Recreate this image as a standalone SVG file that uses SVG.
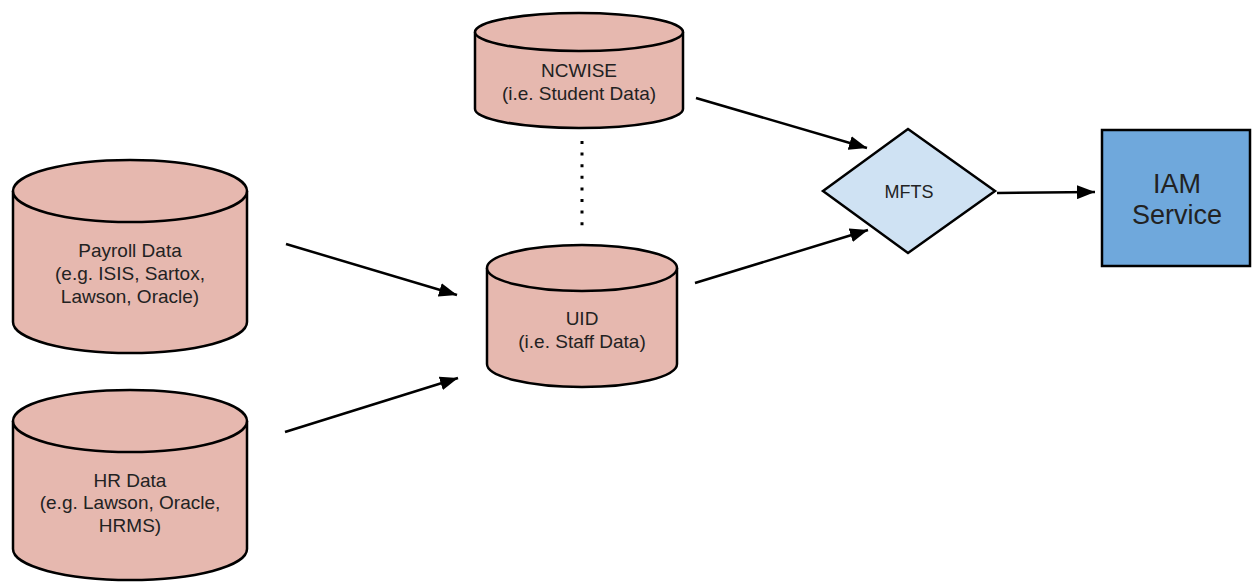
<svg xmlns="http://www.w3.org/2000/svg" width="1252" height="585" viewBox="0 0 1252 585">
  <defs>
    <marker id="arrow" viewBox="0 0 18 14" refX="18" refY="7" markerWidth="18" markerHeight="14" markerUnits="userSpaceOnUse" orient="auto">
      <path d="M0,0 L18,7 L0,14 Z" fill="#000"/>
    </marker>
    <style>
      .db { fill: #e6b8af; stroke: #000; stroke-width: 2.5; }
      .lbl { font-family: "Liberation Sans", Arial, sans-serif; font-size: 19px; fill: #222; text-anchor: middle; }
      .small { font-size: 18px; }
      .big { font-size: 27px; }
      .edge { fill: none; stroke: #000; stroke-width: 2.5; marker-end: url(#arrow); }
    </style>
  </defs>
  <rect width="1252" height="585" fill="#fff"/>

  <!-- NCWISE cylinder -->
  <g id="ncwise">
    <path class="db" d="M475,32 A104,19 0 0 1 683,32 L683,109 A104,19 0 0 1 475,109 Z"/>
    <path class="db" d="M475,32 A104,19 0 0 0 683,32" fill="none"/>
    <text class="lbl" x="579" y="77">NCWISE</text>
    <text class="lbl" x="579" y="100">(i.e. Student Data)</text>
  </g>

  <!-- Payroll cylinder -->
  <g id="payroll">
    <path class="db" d="M13,191 A117,31 0 0 1 247,191 L247,322 A117,31 0 0 1 13,322 Z"/>
    <path class="db" d="M13,191 A117,31 0 0 0 247,191" fill="none"/>
    <text class="lbl" x="130" y="257">Payroll Data</text>
    <text class="lbl" x="130" y="280">(e.g. ISIS, Sartox,</text>
    <text class="lbl" x="130" y="303">Lawson, Oracle)</text>
  </g>

  <!-- UID cylinder -->
  <g id="uid">
    <path class="db" d="M487,268 A95,23 0 0 1 677,268 L677,364 A95,23 0 0 1 487,364 Z"/>
    <path class="db" d="M487,268 A95,23 0 0 0 677,268" fill="none"/>
    <text class="lbl" x="582" y="325">UID</text>
    <text class="lbl" x="582" y="348">(i.e. Staff Data)</text>
  </g>

  <!-- HR cylinder -->
  <g id="hr">
    <path class="db" d="M13,421 A117,31 0 0 1 247,421 L247,549 A117,31 0 0 1 13,549 Z"/>
    <path class="db" d="M13,421 A117,31 0 0 0 247,421" fill="none"/>
    <text class="lbl" x="130" y="487">HR Data</text>
    <text class="lbl" x="130" y="509">(e.g. Lawson, Oracle,</text>
    <text class="lbl" x="130" y="532">HRMS)</text>
  </g>

  <!-- MFTS decision diamond -->
  <g id="mfts">
    <polygon points="823,191 908,129 995,191 908,253" fill="#cfe2f3" stroke="#000" stroke-width="2.5"/>
    <text class="lbl small" x="909" y="198">MFTS</text>
  </g>

  <!-- IAM Service box -->
  <g id="iam">
    <rect x="1102" y="130" width="148" height="136" fill="#6fa8dc" stroke="#000" stroke-width="2.5"/>
    <text class="lbl big" x="1177" y="193">IAM</text>
    <text class="lbl big" x="1177" y="224">Service</text>
  </g>

  <!-- connectors -->
  <g id="connectors">
    <line class="edge" x1="696" y1="98" x2="867" y2="148"/>
    <line class="edge" x1="695" y1="283" x2="868" y2="230"/>
    <line class="edge" x1="286" y1="244" x2="457" y2="295"/>
    <line class="edge" x1="285" y1="432" x2="458" y2="378"/>
    <line class="edge" x1="997" y1="193" x2="1095" y2="192"/>
    <line x1="582" y1="141" x2="582" y2="227" stroke="#000" stroke-width="3" stroke-dasharray="3 8.6"/>
  </g>
</svg>
